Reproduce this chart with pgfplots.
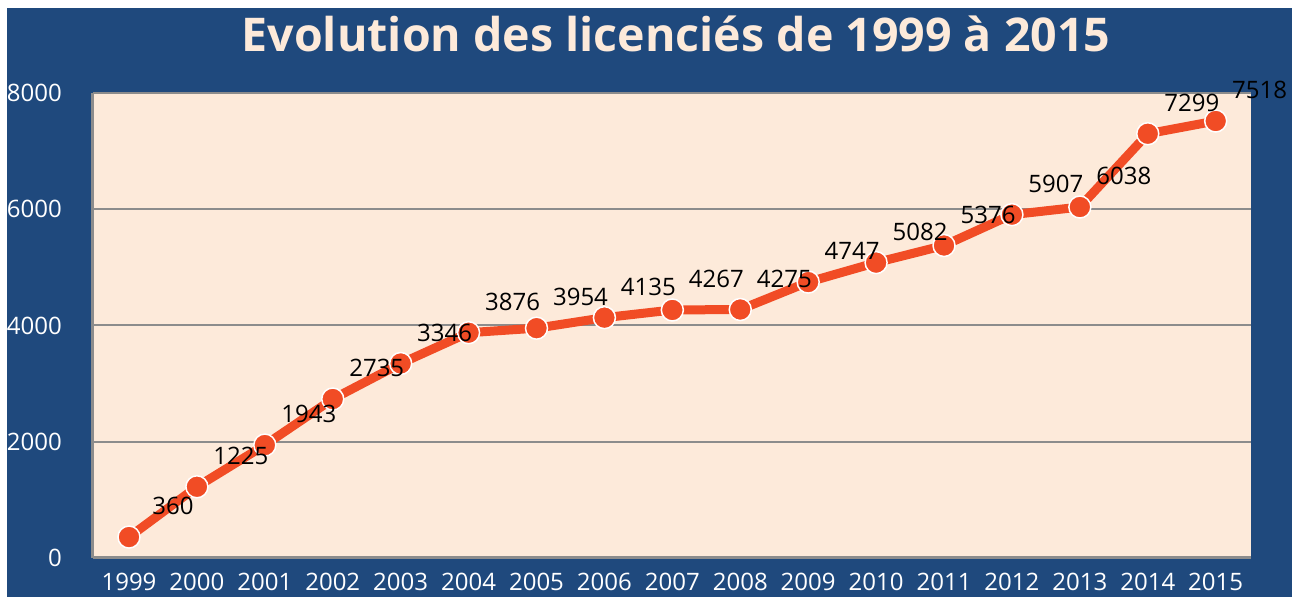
\documentclass[border=0pt]{standalone}
\usepackage{pgfplots}
\pgfplotsset{compat=1.18}
\usepackage{fontspec}
\setmainfont{Open Sans}
\definecolor{bgblue}{HTML}{1F497D}
\definecolor{beige}{HTML}{FDEADA}
\definecolor{lineorange}{HTML}{F14C25}
\definecolor{gridgray}{HTML}{8C8C8C}
\pgfkeys{/pgf/number format/.cd,1000 sep={}}
\pgfplotstableread{
year value
1999 360
2000 1225
2001 1943
2002 2735
2003 3346
2004 3876
2005 3954
2006 4135
2007 4267
2008 4275
2009 4747
2010 5082
2011 5376
2012 5907
2013 6038
2014 7299
2015 7518
}\datatable
\begin{document}
\begin{tikzpicture}[x=1bp,y=1bp]
\useasboundingbox (-93,-39) rectangle (1205,558);
\fill[white] (-93,-39) rectangle (1205,558);
\fill[bgblue] (-86,-39) rectangle (1199,550);
\begin{axis}[
  at={(0,0)}, anchor=south west,
  scale only axis, width=1158bp, height=465bp,
  xmin=1998.47, xmax=2015.52, ymin=0, ymax=8000,
  ytick={0,2000,4000,6000,8000}, xtick=data,
  axis background/.style={fill=beige},
  ymajorgrids, grid style={draw=gridgray, line width=2bp},
  axis x line=bottom, axis y line=left,
  axis line style={-, draw=gridgray, line width=3bp},
  major tick length=0pt,
  /pgf/number format/assume math mode=true,
  tick label style={text=white, font=\fontsize{24bp}{28bp}\selectfont, inner sep=0pt},
  yticklabel style={anchor=east, xshift=-31bp},
  xticklabel style={anchor=center, yshift=-24bp},
  clip=false,
]
\addplot[color=lineorange, line width=9bp, mark=*, mark size=11bp,
  mark options={fill=lineorange, draw=white, line width=1.5bp}]
  table[x=year, y=value] {\datatable};
\addplot[draw=none, mark=none,
  nodes near coords={\pgfmathprintnumber{\pgfplotspointmeta}},
  every node near coord/.append style={anchor=center, xshift=44bp, yshift=31bp, text=black, inner sep=0pt, font=\fontsize{24bp}{28bp}\selectfont}]
  table[x=year, y=value] {\datatable};
\end{axis}
\node[anchor=base, text=beige, font=\bfseries\fontsize{46.5bp}{52bp}\selectfont] at (583,506) {Evolution des licenciés de 1999 à 2015};
\end{tikzpicture}
\end{document}
